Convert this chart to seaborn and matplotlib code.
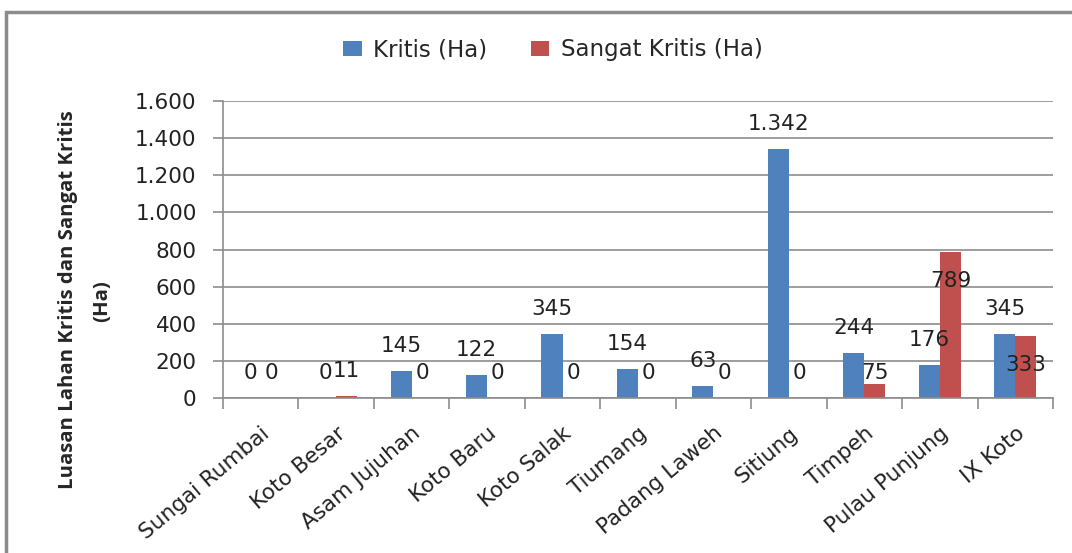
import matplotlib
matplotlib.use("Agg")
import matplotlib.pyplot as plt
import seaborn as sns
import pandas as pd
import numpy as np
from matplotlib.patches import Rectangle, Patch

categories = ["Sungai Rumbai", "Koto Besar", "Asam Jujuhan", "Koto Baru", "Koto Salak",
              "Tiumang", "Padang Laweh", "Sitiung", "Timpeh", "Pulau Punjung", "IX Koto"]
kritis = [0, 0, 145, 122, 345, 154, 63, 1342, 244, 176, 345]
sangat_kritis = [0, 11, 0, 0, 0, 0, 0, 0, 75, 789, 333]
series_names = ["Kritis (Ha)", "Sangat Kritis (Ha)"]
y_ticks = [0, 200, 400, 600, 800, 1000, 1200, 1400, 1600]
y_tick_labels = ["0", "200", "400", "600", "800", "1.000", "1.200", "1.400", "1.600"]
y_title_1 = "Luasan Lahan Kritis dan Sangat Kritis"
y_title_2 = "(Ha)"

colors = ["#4F81BD", "#C0504D"]
# label placement tweaks (pixels, vertical) imitating the source's manual label positions
sk_label_shift = {"Timpeh": -14, "Pulau Punjung": -54, "IX Koto": -54}

df = pd.DataFrame({
    "cat": categories * 2,
    "val": kritis + sangat_kritis,
    "series": [series_names[0]] * len(categories) + [series_names[1]] * len(categories),
})

sns.set_style("white")
fig = plt.figure(figsize=(10.72, 5.53), dpi=100)
ax = fig.add_axes([223 / 1072, 1 - 398 / 553, (1053 - 223) / 1072, (398 - 101) / 553])

sns.barplot(data=df, x="cat", y="val", hue="series", palette=colors, width=0.56,
            saturation=1, ax=ax, legend=False, order=categories, hue_order=series_names,
            errorbar=None, linewidth=0, edgecolor="none", gap=0)

ax.set_xlim(-0.5, len(categories) - 0.5)
ax.set_ylim(0, 1600)
ax.set_yticks(y_ticks)
ax.set_yticklabels(y_tick_labels, fontsize=15.5, color="#222222")
ax.yaxis.grid(True, color="#8c8c8c", lw=1.2)
ax.set_axisbelow(True)
for s in ["top", "right"]:
    ax.spines[s].set_visible(False)
for s in ["left", "bottom"]:
    ax.spines[s].set_color("#8c8c8c")
    ax.spines[s].set_linewidth(1.2)
ax.tick_params(axis="y", length=7, width=1.2, color="#8c8c8c", left=True, pad=12)
ax.set_xticks(range(len(categories)))
ax.set_xticklabels(categories, rotation=40, ha="right", rotation_mode="anchor",
                   fontsize=15.5, color="#222222")
ax.tick_params(axis="x", which="major", length=0, pad=18)
ax.set_xticks(np.arange(-0.5, len(categories), 1.0), minor=True)
ax.tick_params(axis="x", which="minor", length=8, width=1.2, color="#8c8c8c", bottom=True)
ax.set_xlabel("")
ax.set_ylabel("")

# data labels
for ci, cont in enumerate(ax.containers):
    vals = kritis if ci == 0 else sangat_kritis
    for i, bar in enumerate(cont):
        x = bar.get_x() + bar.get_width() / 2
        h = bar.get_height()
        shift = 0
        if ci == 1:
            shift = sk_label_shift.get(categories[i], 0)
        txt = f"{vals[i]:,}".replace(",", ".")
        ax.annotate(txt, (x, h), xytext=(0, (25 + shift) * 0.72), textcoords="offset points",
                    ha="center", va="center", fontsize=15.5, color="#222222")

# legend
handles = [Patch(facecolor=c, edgecolor="none") for c in colors]
fig.legend(handles, series_names, loc="center", bbox_to_anchor=(553 / 1072, 1 - 50 / 553),
           ncol=2, frameon=False, handlelength=0.8, handleheight=0.6, handletextpad=0.5,
           columnspacing=1.9, prop={"size": 16.5})

# y title
fig.text(68 / 1072, 1 - 300 / 553, y_title_1, rotation=90, ha="center", va="center",
         fontsize=14.7, fontweight="bold", family=["Open Sans", "DejaVu Sans"])
fig.text(102 / 1072, 1 - 301 / 553, y_title_2, rotation=90, ha="center", va="center",
         fontsize=14.7, fontweight="bold", family=["Open Sans", "DejaVu Sans"])

# outer frame
fig.patches.append(Rectangle((6 / 1072, -0.05), 1.1, 1 - 12 / 553 + 0.05,
                             transform=fig.transFigure, fill=False, edgecolor="#8c8c8c",
                             lw=2.5, zorder=0))

fig.savefig("out.png", dpi=100)
